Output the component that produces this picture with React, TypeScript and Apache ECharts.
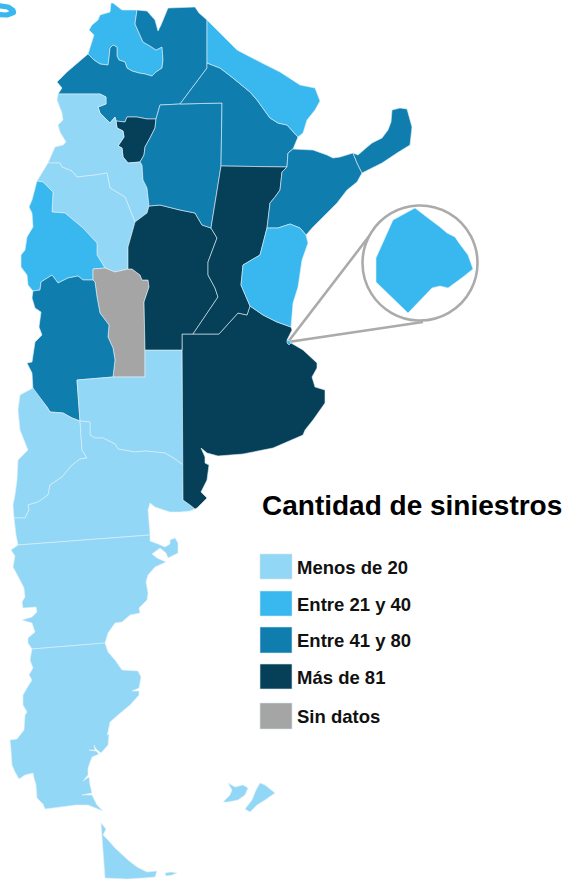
import React, { useEffect, useRef } from "react";
import * as echarts from "echarts";

type Pt = [number, number];

const legendLabels = ["Menos de 20", "Entre 21 y 40", "Entre 41 y 80", "Más de 81", "Sin datos"];
const legendColors = ["#92d7f6", "#38b8ee", "#0f7dad", "#063f58", "#a5a5a5"];

const jujuy: Pt[] = [[137,10],[135,24],[139,33],[143,42],[150,46],[156,50],[162,47],[163,60],[162,68],[156,72],[152,76],[145,74],[139,73],[132,71],[127,68],[125,62],[119,60],[117,56],[117,47],[113,45],[110,48],[109,58],[108,65],[100,64],[94,60],[88,54],[94,35],[89,30],[92,25],[98,20],[100,15],[110,12],[111,3],[113,3],[122,10]];
const salta: Pt[] = [[137,10],[147,11],[155,20],[158,31],[161,25],[168,8],[195,7],[199,13],[207,20],[207,68],[180,104],[160,105],[156,119],[147,119],[137,117],[127,117],[125,122],[116,121],[115,117],[110,123],[100,113],[98,107],[106,104],[106,97],[100,94],[58,94],[62,88],[57,82],[67,72],[88,54],[94,60],[100,64],[108,65],[109,58],[110,48],[113,45],[117,47],[117,56],[119,60],[125,62],[127,68],[132,71],[139,73],[145,74],[152,76],[156,72],[162,68],[163,60],[162,47],[156,50],[150,46],[143,42],[139,33],[135,24]];
const tucuman: Pt[] = [[116,121],[117,128],[123,131],[124,137],[118,146],[122,148],[123,157],[128,163],[140,162],[144,155],[145,147],[150,138],[155,128],[156,119],[147,119],[137,117],[127,117],[125,122]];
const catamarca: Pt[] = [[58,94],[100,94],[106,97],[106,104],[98,107],[100,113],[110,123],[115,117],[116,121],[117,128],[123,131],[124,137],[118,146],[122,148],[123,157],[128,163],[140,162],[142,165],[143,180],[147,188],[149,206],[147,213],[135,222],[125,197],[110,188],[107,173],[95,175],[77,177],[72,171],[62,167],[60,163],[48,163],[55,147],[63,145],[66,142],[60,132],[58,125],[63,120],[62,113],[57,100]];
const laRioja: Pt[] = [[37,181],[48,163],[60,163],[62,167],[72,171],[77,177],[95,175],[107,173],[110,188],[125,197],[135,222],[128,247],[128,269],[115,272],[105,268],[97,255],[97,243],[83,228],[65,213],[52,212],[53,192],[43,182]];
const sanJuan: Pt[] = [[37,181],[43,182],[53,192],[52,212],[65,213],[83,228],[97,243],[97,255],[105,268],[93,269],[93,280],[83,280],[78,276],[68,278],[58,283],[52,275],[41,282],[40,290],[33,291],[28,285],[27,275],[21,267],[21,255],[25,250],[27,237],[33,227],[32,213],[29,207],[32,200]];
const sanLuis: Pt[] = [[93,269],[105,268],[115,272],[128,269],[132,269],[140,275],[142,280],[148,280],[149,287],[144,302],[145,350],[145,377],[113,377],[115,360],[113,348],[108,337],[109,325],[100,313],[97,297],[95,282],[93,280]];
const mendoza: Pt[] = [[33,291],[40,290],[41,282],[52,275],[58,283],[68,278],[78,276],[83,280],[93,280],[95,282],[97,297],[100,313],[109,325],[108,337],[113,348],[115,360],[113,377],[77,380],[80,421],[72,418],[63,413],[50,412],[47,407],[33,390],[32,373],[27,363],[32,362],[35,342],[42,335],[39,327],[41,312],[35,308],[32,298]];
const laPampa: Pt[] = [[77,380],[113,377],[145,377],[145,350],[182,350],[183,465],[175,459],[165,453],[145,451],[135,452],[118,449],[115,444],[103,438],[95,438],[90,435],[90,430],[90,422],[80,421]];
const neuquen: Pt[] = [[33,388],[47,407],[50,412],[63,413],[72,418],[80,421],[82,450],[87,458],[80,459],[72,465],[62,477],[50,485],[48,495],[38,502],[28,505],[29,510],[25,518],[14,518],[13,505],[15,495],[17,480],[18,460],[28,450],[20,430],[18,410],[20,395]];
const rioNegro: Pt[] = [[80,421],[90,422],[90,430],[90,435],[95,438],[103,438],[115,444],[118,449],[135,452],[145,451],[165,453],[175,459],[183,465],[183,500],[190,505],[195,509],[190,511],[180,512],[170,512],[155,507],[150,503],[148,510],[149,522],[150,535],[18,545],[16,535],[14,518],[25,518],[29,510],[28,505],[38,502],[48,495],[50,485],[62,477],[72,465],[80,459],[87,458],[82,450]];
const chubut: Pt[] = [[18,545],[150,535],[150,541],[158,544],[165,547],[170,544],[170,540],[175,538],[178,543],[178,553],[168,558],[166,553],[160,548],[152,554],[157,558],[166,562],[155,567],[148,575],[146,582],[148,593],[147,600],[139,608],[140,613],[130,615],[122,622],[115,623],[108,633],[105,643],[32,649],[28,643],[28,638],[35,632],[32,623],[22,620],[32,617],[37,612],[36,607],[23,608],[22,602],[25,597],[24,588],[20,580],[13,567],[15,556],[11,550]];
const santaCruz: Pt[] = [[32,649],[105,643],[108,652],[115,660],[122,670],[138,671],[141,677],[139,688],[132,691],[139,691],[139,695],[130,705],[118,715],[110,722],[108,732],[107,735],[109,734],[108,745],[101,753],[96,749],[94,745],[95,750],[89,750],[96,751],[99,754],[92,757],[88,768],[88,775],[83,781],[89,777],[90,785],[92,793],[82,795],[92,795],[97,805],[103,811],[88,805],[76,805],[45,809],[43,804],[37,798],[36,785],[34,778],[33,773],[25,775],[19,779],[15,772],[12,765],[11,750],[10,740],[17,739],[24,730],[25,715],[27,712],[23,705],[23,695],[27,688],[32,680],[29,675],[33,668],[30,660]];
const tierraDelFuego: Pt[] = [[101,823],[106,829],[103,835],[108,840],[115,848],[128,860],[137,867],[147,872],[157,871],[155,877],[143,878],[127,879],[105,878]];
const islaEstados: Pt[] = [[165,873],[171,872],[177,873],[172,875],[166,876]];
const buenosAires: Pt[] = [[182,334],[193,334],[219,334],[238,313],[247,315],[250,306],[263,315],[277,322],[291,327],[292,330],[287,340],[291,343],[303,350],[317,363],[317,368],[312,377],[315,387],[325,390],[325,403],[313,420],[305,430],[303,435],[273,448],[243,454],[218,456],[207,453],[201,448],[205,457],[205,463],[209,465],[207,480],[201,492],[207,498],[197,508],[195,509],[190,505],[183,500]];
const cordoba: Pt[] = [[135,222],[147,213],[149,206],[160,205],[180,210],[195,213],[202,225],[211,228],[217,238],[208,262],[208,275],[215,288],[218,297],[193,334],[182,334],[182,350],[145,350],[144,302],[149,287],[148,280],[142,280],[140,275],[132,269],[128,269],[128,247]];
const santiago: Pt[] = [[156,119],[160,105],[180,104],[222,103],[221,166],[211,228],[202,225],[195,213],[180,210],[160,205],[149,206],[147,188],[143,180],[142,165],[140,162],[144,155],[145,147],[150,138],[155,128]];
const chaco: Pt[] = [[180,104],[207,68],[207,63],[220,68],[233,78],[250,92],[257,100],[270,118],[278,123],[287,125],[298,137],[293,149],[288,153],[287,167],[221,166],[222,103]];
const formosa: Pt[] = [[207,20],[220,33],[237,50],[262,63],[280,72],[300,85],[315,88],[320,101],[315,110],[307,120],[303,133],[298,137],[287,125],[278,123],[270,118],[257,100],[250,92],[233,78],[220,68],[207,63]];
const santaFe: Pt[] = [[221,166],[287,167],[282,172],[280,190],[275,197],[270,203],[268,220],[267,228],[260,255],[243,265],[241,285],[250,306],[247,315],[238,313],[219,334],[193,334],[218,297],[215,288],[208,275],[208,262],[217,238],[211,228]];
const corrientes: Pt[] = [[288,153],[293,149],[313,150],[327,155],[333,158],[340,157],[353,153],[357,163],[362,173],[357,182],[347,190],[337,203],[325,215],[313,227],[306,235],[300,228],[290,224],[278,228],[267,228],[268,220],[270,203],[275,197],[280,190],[282,172],[287,167]];
const misiones: Pt[] = [[353,153],[358,155],[366,148],[372,143],[382,138],[388,130],[391,122],[392,110],[400,108],[407,109],[412,127],[410,145],[397,153],[382,163],[362,173],[357,163]];
const entreRios: Pt[] = [[267,228],[278,228],[290,224],[300,228],[306,235],[308,243],[302,260],[298,287],[293,303],[291,327],[277,322],[263,315],[250,306],[241,285],[243,265],[260,255]];
const caba: Pt[] = [[287,340],[290,341],[291,343],[289,345],[287,343]];
const cabaInset: Pt[] = [[415,208],[428,218],[440,227],[447,233],[455,237],[459,243],[462,247],[468,255],[473,269],[463,277],[448,288],[440,286],[432,288],[408,313],[376,282],[376,258],[393,220]];
const malvinasOeste: Pt[] = [[228,783],[235,787],[243,785],[248,788],[245,795],[238,800],[228,802],[223,802],[230,795],[232,790]];
const malvinasEste: Pt[] = [[260,783],[265,785],[275,793],[265,800],[257,805],[250,812],[245,809],[252,800],[256,790]];

const provinces: [string, Pt[][], number][] = [
  ["Jujuy", [jujuy], 1], ["Salta", [salta], 2], ["Tucumán", [tucuman], 3], ["Catamarca", [catamarca], 0],
  ["La Rioja", [laRioja], 0], ["San Juan", [sanJuan], 1], ["San Luis", [sanLuis], 4], ["Mendoza", [mendoza], 2],
  ["La Pampa", [laPampa], 0], ["Neuquén", [neuquen], 0], ["Río Negro", [rioNegro], 0], ["Chubut", [chubut], 0],
  ["Santa Cruz", [santaCruz], 0], ["Tierra del Fuego", [tierraDelFuego, islaEstados], 0],
  ["Buenos Aires", [buenosAires], 3], ["Córdoba", [cordoba], 3], ["Santiago del Estero", [santiago], 2],
  ["Chaco", [chaco], 2], ["Formosa", [formosa], 1], ["Santa Fe", [santaFe], 3], ["Corrientes", [corrientes], 2],
  ["Misiones", [misiones], 2], ["Entre Ríos", [entreRios], 1], ["CABA", [caba], 1], ["CABA ampliada", [cabaInset], 1],
  ["Malvinas", [malvinasOeste, malvinasEste], 0],
];

export default function App() {
  const ref = useRef<HTMLDivElement>(null);
  useEffect(() => {
    document.body.style.margin = "0";
    document.body.style.background = "#fff";
    const geoJson: any = {
      type: "FeatureCollection",
      features: provinces.map(([name, polys]) => ({
        type: "Feature",
        properties: { name },
        geometry: { type: "MultiPolygon", coordinates: polys.map((p) => [[...p, p[0]]]) },
      })),
    };
    echarts.registerMap("argentina", geoJson);
    const all = provinces.flatMap((p) => p[1].flat());
    const xs = all.map((p) => p[0]);
    const ys = all.map((p) => p[1]);
    const minX = Math.min(...xs), maxX = Math.max(...xs), minY = Math.min(...ys), maxY = Math.max(...ys);

    const chart = echarts.init(ref.current!, undefined, { renderer: "svg" });
    const legendTops = [554, 591, 627, 664, 703];
    const legendHeights = [25, 25, 26, 25, 26];
    const legendGraphics: any[] = legendLabels.flatMap((label, i) => [
      { type: "rect", shape: { x: 260, y: legendTops[i], width: 32, height: legendHeights[i] }, style: { fill: legendColors[i], stroke: "#d5e6ee", lineWidth: 0.6 } },
      { type: "text", x: 297, y: legendTops[i] + 13, style: { text: label, fill: "#111", font: 'bold 18.5px "Liberation Sans", Arial, sans-serif', textVerticalAlign: "middle" } },
    ]);
    chart.setOption({
      animation: false,
      backgroundColor: "#fff",
      series: [
        {
          type: "map",
          map: "argentina",
          projection: { project: (p: number[]) => p, unproject: (p: number[]) => p },
          aspectScale: 1,
          left: minX,
          top: minY,
          width: maxX - minX,
          height: maxY - minY,
          roam: false,
          silent: true,
          selectedMode: false,
          label: { show: false },
          emphasis: { disabled: true },
          itemStyle: { borderColor: "rgba(225,240,248,0.75)", borderWidth: 0.8 },
          data: provinces.map(([name, , cls]) => ({ name, value: cls, itemStyle: { areaColor: legendColors[cls] } })),
        },
      ],
      graphic: [
        { type: "polyline", z: 10, shape: { points: [[-3, 5.5], [8, 7], [13, 10.5], [13.5, 12.5], [7, 15], [-3, 14.5]] }, style: { stroke: "#38b8ee", lineWidth: 5.2, fill: "none", lineJoin: "round" } },
        { type: "polyline", z: 1, shape: { points: [[370, 235], [288, 342], [423, 322]] }, style: { stroke: "#ababab", lineWidth: 2.6, fill: "none" } },
        { type: "circle", z: 1, shape: { cx: 420, cy: 263, r: 57.5 }, style: { stroke: "#ababab", lineWidth: 2.6, fill: "#fff" } },
        { type: "text", x: 262, y: 505, style: { text: "Cantidad de siniestros", fill: "#000", font: 'bold 28px "Liberation Sans", Arial, sans-serif', textVerticalAlign: "middle" } },
        ...legendGraphics,
      ],
    });
    return () => chart.dispose();
  }, []);
  return <div ref={ref} style={{ position: "absolute", left: 0, top: 0, width: 566, height: 880, overflow: "hidden" }} />;
}
